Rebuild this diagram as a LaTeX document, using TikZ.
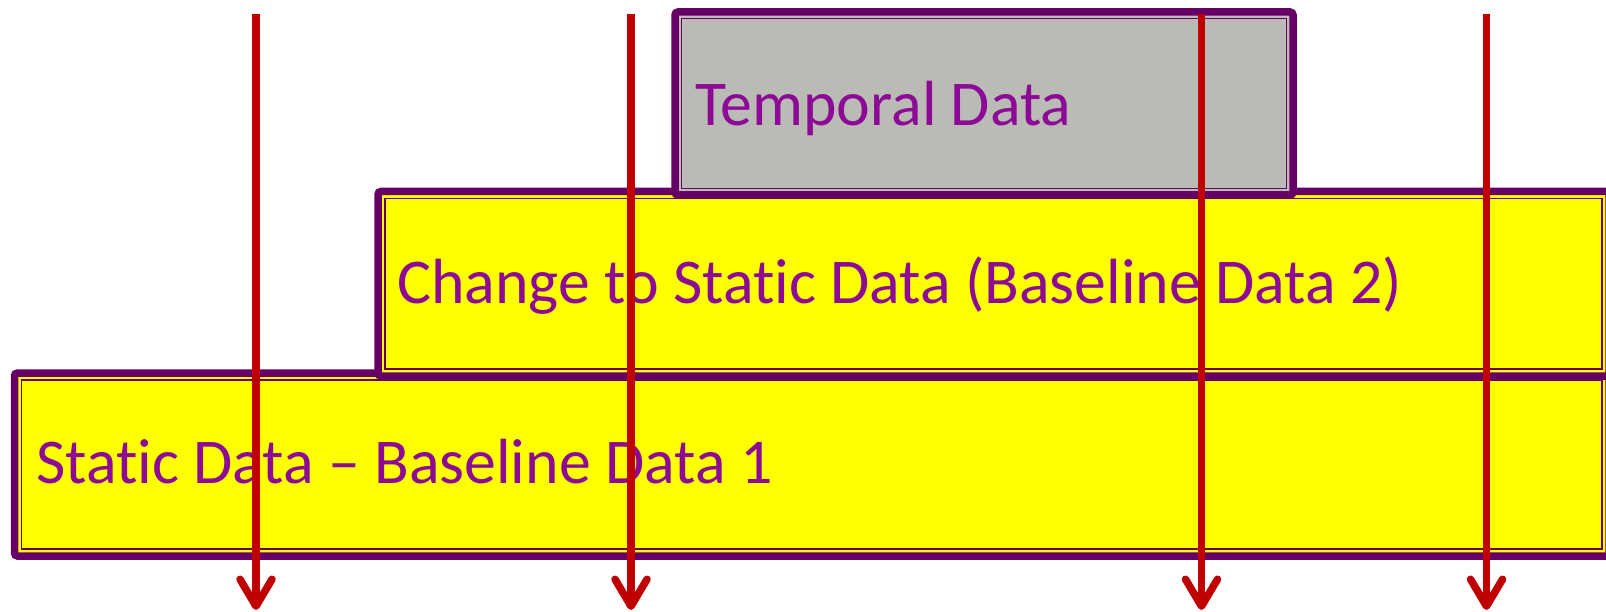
\documentclass[tikz,border=0pt]{standalone}
\usepackage{fontspec}
\setmainfont{Carlito}[Ligatures=NoCommon]
\usetikzlibrary{arrows.meta}
\definecolor{boxpurple}{RGB}{102,0,102}
\definecolor{txtpurple}{RGB}{140,10,150}
\definecolor{arrowred}{RGB}{192,0,0}
\definecolor{grayfill}{RGB}{186,187,181}
\definecolor{boxyellow}{RGB}{255,255,0}
\begin{document}
\begin{tikzpicture}[x=1pt,y=-1pt,
  databox/.style={draw=boxpurple, line width=7.5pt, rounded corners=3pt, outer sep=0pt, inner sep=0pt, anchor=north west},
  innerline/.style={draw=boxpurple, line width=1.8pt},
  lbl/.style={text=txtpurple, inner sep=0pt, anchor=base west, font=\fontsize{63.8}{70}\selectfont},
  redarrow/.style={draw=arrowred, line width=7.5pt, -{Straight Barb[length=27pt,width=32pt,round]}}
]
\useasboundingbox (0,0) rectangle (1606,612);
% static box
\node[databox, fill=boxyellow, minimum width=1594.5pt, minimum height=183pt] (static) at (14.5,373) {};
\draw[innerline] ([shift={(7,7)}]static.north west) rectangle ([shift={(-7,-7)}]static.south east);
\node[lbl] (statictxt) at (36,483) {Static Data – Baseline Data 1};
% change box
\node[databox, fill=boxyellow, minimum width=1231pt, minimum height=184.5pt] (change) at (378,191.5) {};
\draw[innerline] ([shift={(7,7)}]change.north west) rectangle ([shift={(-7,-7)}]change.south east);
\node[lbl] (changetxt) at (397,304) {Change to Static Data (Baseline Data 2)};
% temporal box
\node[databox, fill=grayfill, minimum width=618pt, minimum height=183pt] (temporal) at (675,12) {};
\draw[innerline] ([shift={(6.5,6.5)}]temporal.north west) rectangle ([shift={(-6.5,-6.5)}]temporal.south east);
\node[lbl] (temporaltxt) at (695,126) {Temporal Data};
% arrows
\coordinate (a1t) at (256,14); \coordinate (a1b) at (256,610);
\coordinate (a2t) at (631,14); \coordinate (a2b) at (631,610);
\coordinate (a3t) at (1201.5,14); \coordinate (a3b) at (1201.5,610);
\coordinate (a4t) at (1486.5,14); \coordinate (a4b) at (1486.5,610);
\draw[redarrow] (a1t) -- (a1b);
\draw[redarrow] (a2t) -- (a2b);
\draw[redarrow] (a3t) -- (a3b);
\draw[redarrow] (a4t) -- (a4b);
\end{tikzpicture}
\end{document}
